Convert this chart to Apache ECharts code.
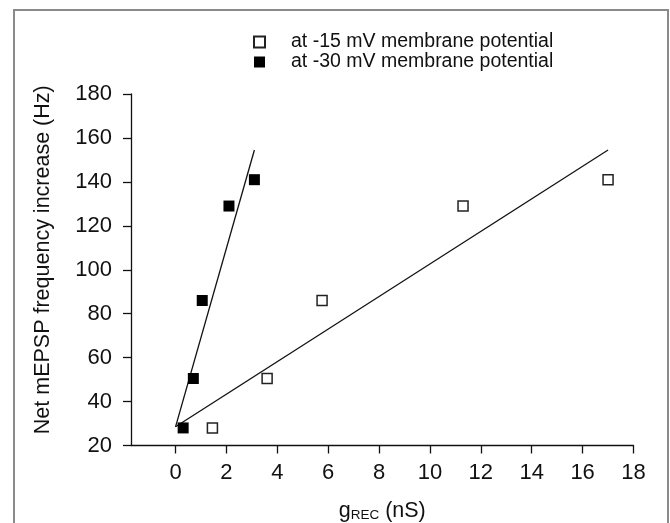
<!DOCTYPE html>
<html>
<head>
<meta charset="utf-8">
<script src="https://cdn.jsdelivr.net/npm/echarts@6/dist/echarts.min.js"></script>
<style>
    html, body { margin: 0; padding: 0; background: #fff; }
    #chart { width: 670px; height: 523px; }
</style>
</head>
<body>
<div id="chart"></div>
<script>
// -15 mV (open squares)
const xNeg15 = [1.45, 3.6, 5.76, 11.3, 17.0]
const yNeg15 = [28, 50.5, 86, 129, 141]
// -30 mV (filled squares)
const xNeg30 = [0.3, 0.7, 1.05, 2.1, 3.1]
const yNeg30 = [28, 50.5, 86, 129, 141]
// regression lines, end points
const fitNeg15X = [0, 17.0]
const fitNeg15Y = [28.5, 154.5]
const fitNeg30X = [0, 3.1]
const fitNeg30Y = [28.5, 154.5]

const xTicks = [0, 2, 4, 6, 8, 10, 12, 14, 16, 18]

const font = 'Liberation Sans, Arial, sans-serif'

function pairs(xs, ys) {
    return xs.map((x, i) => [x, ys[i]])
}

const chart = echarts.init(document.getElementById('chart'))

let option = {
    animation: false,
    textStyle: { fontFamily: font },
    graphic: [{
        type: 'rect',
        shape: { x: 14, y: 10, width: 654, height: 560 },
        style: { fill: 'none', stroke: '#8a8a8a', lineWidth: 2 },
        silent: true
    }],
    legend: {
        orient: 'vertical',
        left: 248,
        top: 27,
        itemWidth: 11,
        itemHeight: 11,
        itemGap: 0,
        textStyle: { fontFamily: font, fontSize: 19.5, color: '#111', padding: [0, 0, 0, 21] },
        data: [
            { name: 'at -15 mV membrane potential', icon: 'rect' },
            { name: 'at -30 mV membrane potential', icon: 'rect' }
        ]
    },
    grid: {
        left: 131,
        right: 36.5,
        top: 94,
        bottom: 77.5,
        containLabel: false,
        outerBoundsMode: 'none'
    },
    xAxis: {
        type: 'value',
        min: -1.75,
        max: 18,
        name: '{g|g}{sub|REC}{g| (nS)}',
        nameLocation: 'middle',
        nameGap: 54,
        nameTextStyle: {
            rich: {
                g: { fontFamily: font, fontSize: 21.5, color: '#111' },
                sub: { fontFamily: font, fontSize: 13.5, color: '#111', verticalAlign: 'bottom', padding: [9, 0, 0, 0] }
            }
        },
        axisLine: { onZero: false, lineStyle: { color: '#111', width: 1.3 } },
        axisTick: { show: true, length: 8, customValues: xTicks, lineStyle: { color: '#111', width: 1.3 } },
        axisLabel: { customValues: xTicks, margin: 16, fontSize: 22, color: '#111', fontFamily: font },
        splitLine: { show: false }
    },
    yAxis: {
        type: 'value',
        min: 20,
        max: 180,
        interval: 20,
        name: 'Net mEPSP frequency increase (Hz)',
        nameLocation: 'middle',
        nameGap: 77,
        nameTextStyle: { fontFamily: font, fontSize: 21.5, color: '#111', padding: [0, 0, 0, 20] },
        axisLine: { show: true, onZero: false, lineStyle: { color: '#111', width: 1.3 } },
        axisTick: { show: true, length: 8, lineStyle: { color: '#111', width: 1.3 } },
        axisLabel: { margin: 19, fontSize: 22, color: '#111', fontFamily: font },
        splitLine: { show: false }
    },
    series: [
        {
            name: 'at -15 mV membrane potential',
            type: 'scatter',
            symbol: 'rect',
            symbolSize: 10,
            itemStyle: { color: '#fff', borderColor: '#222', borderWidth: 1.5, opacity: 1 },
            data: pairs(xNeg15, yNeg15),
            z: 3
        },
        {
            name: 'at -30 mV membrane potential',
            type: 'scatter',
            symbol: 'rect',
            symbolSize: 11,
            itemStyle: { color: '#000', opacity: 1 },
            data: pairs(xNeg30, yNeg30),
            z: 3
        },
        {
            type: 'line',
            data: pairs(fitNeg15X, fitNeg15Y),
            showSymbol: false,
            lineStyle: { color: '#111', width: 1.3 },
            silent: true,
            z: 2
        },
        {
            type: 'line',
            data: pairs(fitNeg30X, fitNeg30Y),
            showSymbol: false,
            lineStyle: { color: '#111', width: 1.3 },
            silent: true,
            z: 2
        }
    ]
}

chart.setOption(option)
</script>
</body>
</html>
